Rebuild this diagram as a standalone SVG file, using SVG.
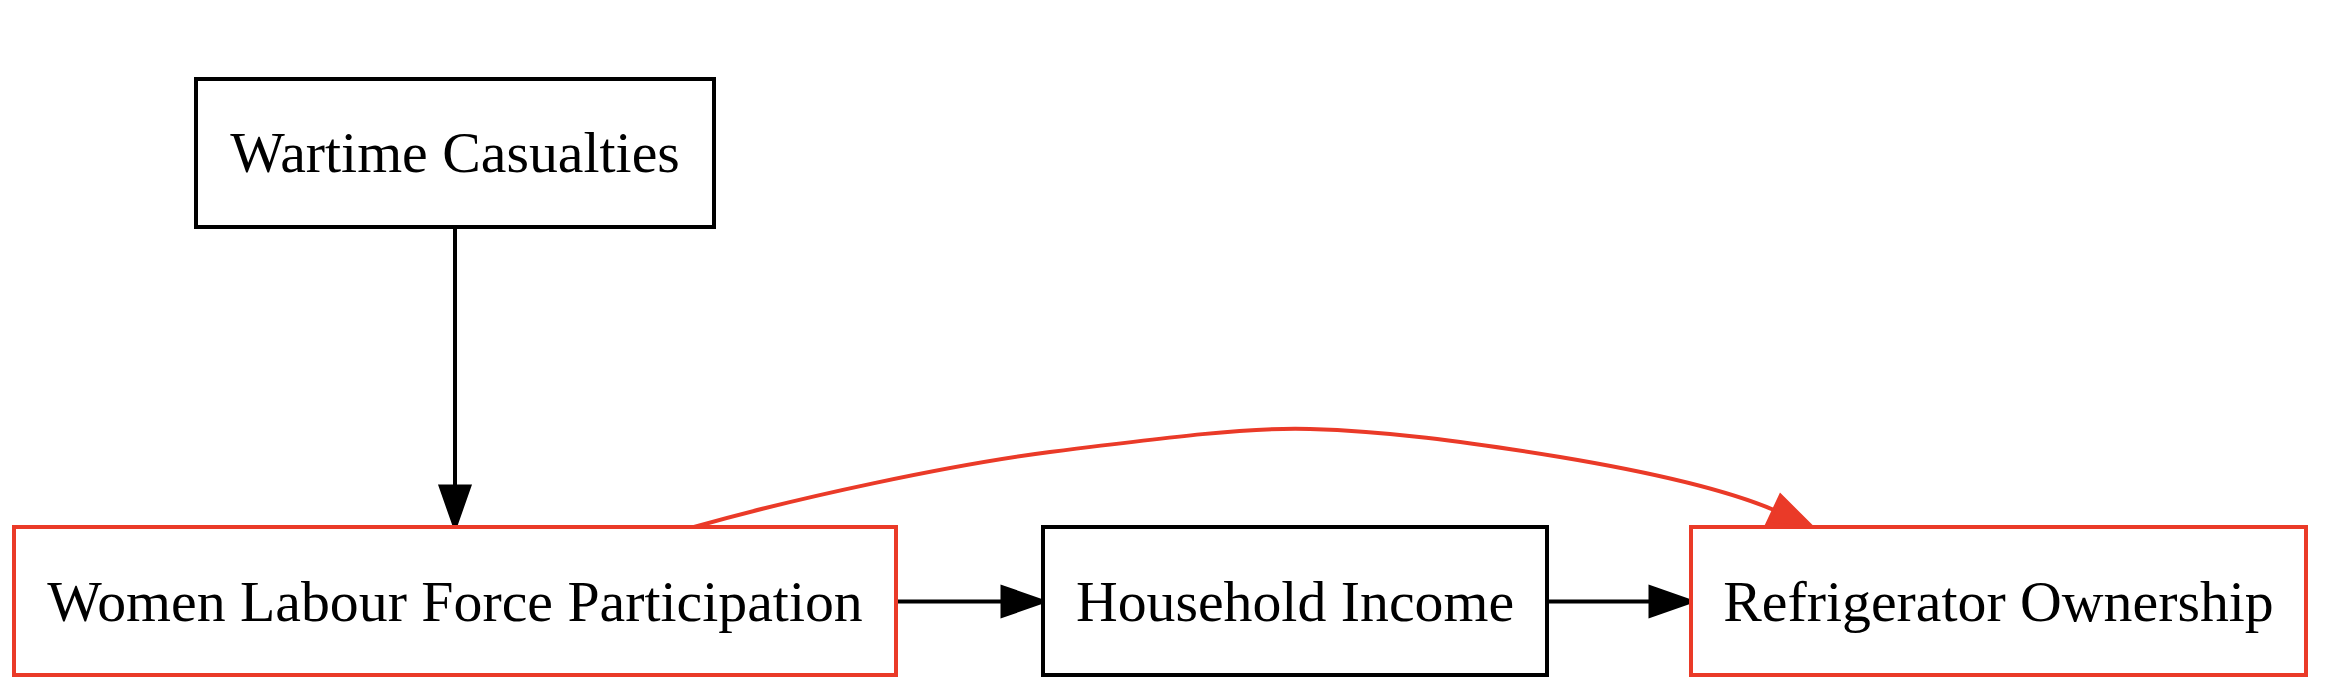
<svg xmlns="http://www.w3.org/2000/svg" width="2328" height="696" viewBox="0 0 2328 696">
<style>
.box{fill:#ffffff;stroke:#000000;stroke-width:4}
.red{stroke:#ea3a28}
.lbl{font-family:"Liberation Serif","Times New Roman",serif;font-size:57.8px;fill:#000000;text-anchor:middle}
.edge{fill:none;stroke:#000000;stroke-width:4}
.head{fill:#000000;stroke:#000000;stroke-width:4;stroke-linejoin:miter}
.redge{fill:none;stroke:#ea3a28;stroke-width:4}
.rhead{fill:#ea3a28;stroke:#ea3a28;stroke-width:4}
</style>
<rect width="2328" height="696" fill="#ffffff"/>
<g id="connectors">
  <path class="edge" d="M455,227 L455,486.5"/>
  <polygon class="head" points="440.8,486.5 469.2,486.5 455,527"/>
  <path class="edge" d="M896,601.5 L1002.5,601.5"/>
  <polygon class="head" points="1002.5,587.3 1002.5,615.7 1043,601.5"/>
  <path class="edge" d="M1547,601.5 L1650.5,601.5"/>
  <polygon class="head" points="1650.5,587.3 1650.5,615.7 1691,601.5"/>
  <path class="redge" d="M694,527 C800,497 950,465 1050,452 C1170,437 1250,427 1310,429 C1385,431 1462,441 1560,457 C1650,472 1722,488 1774,510"/>
  <polygon class="rhead" points="1767.4,524 1780.6,496 1813,528.2"/>
</g>
<g id="node-wartime">
  <rect class="box" x="196" y="79" width="518" height="148"/>
  <text class="lbl" x="455" y="172">Wartime Casualties</text>
</g>
<g id="node-women">
  <rect class="box red" x="14" y="527" width="882" height="148"/>
  <text class="lbl" x="455" y="620.5">Women Labour Force Participation</text>
</g>
<g id="node-household">
  <rect class="box" x="1043" y="527" width="504" height="148"/>
  <text class="lbl" x="1295" y="620.5">Household Income</text>
</g>
<g id="node-refrigerator">
  <rect class="box red" x="1691" y="527" width="615" height="148"/>
  <text class="lbl" x="1998.5" y="620.5">Refrigerator Ownership</text>
</g>
</svg>
